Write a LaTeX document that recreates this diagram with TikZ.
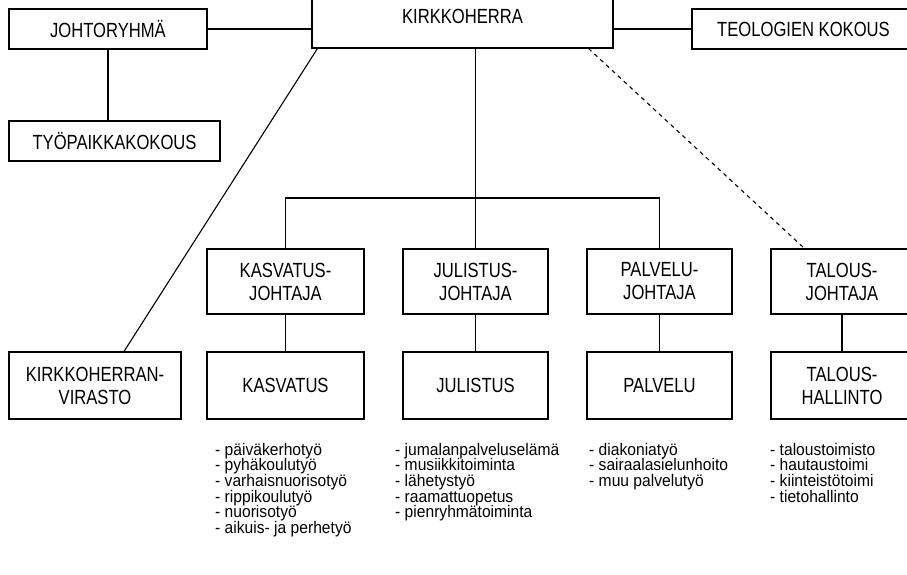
\documentclass[tikz,border=0pt]{standalone}
\usepackage{fontspec}
\setmainfont{Liberation Sans}
\newfontfamily\boxfont[FakeStretch=0.81]{Liberation Sans}
\newfontfamily\listfont[FakeStretch=0.93]{Liberation Sans}
\newcommand{\tightlines}{\lineskiplimit=-6pt\relax\lineskip=0pt\relax}
\usetikzlibrary{positioning}
\usetikzlibrary{calc}
\tikzstyle{unitbox}=[rectangle,draw=black,fill=white,line width=1.1pt,align=center,inner sep=2pt,font=\boxfont\fontsize{20.5}{23}\selectfont]
\tikzstyle{tasklist}=[anchor=north west,inner sep=0pt,align=left,font=\listfont\fontsize{16.8}{15.6}\selectfont\tightlines]
\tikzstyle{orgline} = [draw,line width=1.1pt]
\tikzstyle{looseline} = [draw,line width=1.1pt,dash pattern=on 4pt off 4pt]

\begin{document}
\begin{tikzpicture}[x=1pt,y=-1pt]
    \useasboundingbox (0,0) rectangle (907,575);
    \clip (0,0) rectangle (907,575);

    % top row and the meeting boxes
    \foreach \pos/\name/\w/\h/\label in {{(462.5,16)/kirkkoherra/301/64/KIRKKOHERRA}, {(108,29)/johtoryhma/198/40/JOHTORYHMÄ}, {(803.5,29)/teologit/223/40/TEOLOGIEN KOKOUS}, {(114.5,141)/tyopaikka/211/40/TYÖPAIKKAKOKOUS}}
        \node[unitbox,minimum width=\w,minimum height=\h] (\name) at \pos {\label};

    % johtajat
    \foreach \pos/\name/\w/\label in {{(285.5,281.5)/kasvatusj/157/{KASVATUS-\\JOHTAJA}}, {(475.5,281.5)/julistusj/145/{JULISTUS-\\JOHTAJA}}, {(659.5,281.5)/palveluj/145/{PALVELU-\\JOHTAJA}}, {(842,281.5)/talousj/142/{TALOUS-\\JOHTAJA}}}
        \node[unitbox,minimum width=\w,minimum height=65] (\name) at \pos {\label};

    % yksikot
    \foreach \pos/\name/\w/\label in {{(95,385.5)/virasto/172/{KIRKKOHERRAN-\\VIRASTO}}, {(285.5,385.5)/kasvatus/157/KASVATUS}, {(475.5,385.5)/julistus/145/JULISTUS}, {(659.5,385.5)/palvelu/145/PALVELU}, {(842,385.5)/taloush/142/{TALOUS-\\HALLINTO}}}
        \node[unitbox,minimum width=\w,minimum height=67] (\name) at \pos {\label};

    % tehtavat
    \node[tasklist] (kasvatuslista) at (215,443) {- päiväkerhotyö\\- pyhäkoulutyö\\- varhaisnuorisotyö\\- rippikoulutyö\\- nuorisotyö\\- aikuis- ja perhetyö};
    \node[tasklist] (julistuslista) at (395,443) {- jumalanpalveluselämä\\- musiikkitoiminta\\- lähetystyö\\- raamattuopetus\\- pienryhmätoiminta};
    \node[tasklist] (palvelulista) at (589,443) {- diakoniatyö\\- sairaalasielunhoito\\- muu palvelutyö};
    \node[tasklist] (talouslista) at (770,443) {- taloustoimisto\\- hautaustoimi\\- kiinteistötoimi\\- tietohallinto};

    \coordinate (bus) at (475.5,198);

    \path[orgline] (johtoryhma.east) -- (johtoryhma.east -| kirkkoherra.west);
    \path[orgline] (teologit.west) -- (teologit.west -| kirkkoherra.east);
    \path[orgline] (johtoryhma.south) -- (johtoryhma.south |- tyopaikka.north);
    \path[orgline] (kirkkoherra.south -| bus) -- (bus);
    \path[orgline] (kasvatusj.north) |- (bus) -| (palveluj.north);
    \path[orgline] (bus) -- (julistusj.north);
    \path[orgline] ([xshift=6]kirkkoherra.south west) -- ([xshift=29]virasto.north);
    \path[looseline] ([xshift=-25]kirkkoherra.south east) -- ([xshift=34]talousj.north west);

    \foreach \source/ \dest in {kasvatusj/kasvatus, julistusj/julistus, palveluj/palvelu, talousj/taloush}
        \path[orgline] (\source) -- (\dest);
\end{tikzpicture}
\end{document}
